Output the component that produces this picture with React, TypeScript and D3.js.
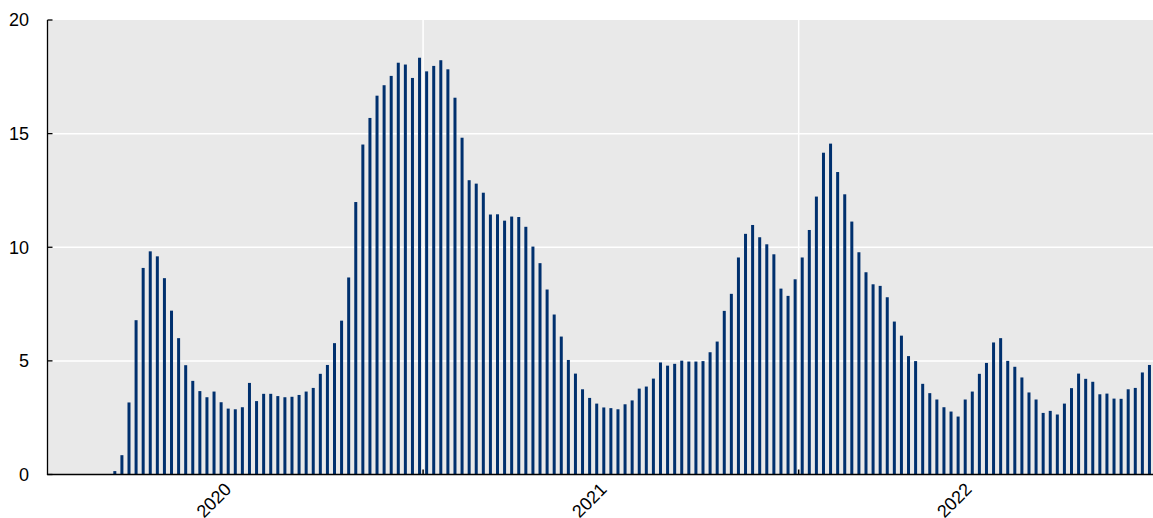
import React from "react";
import * as d3 from "d3";

// weekly values, starting at week 10 of 2020
const values = [
  0.15, 0.85, 3.17, 6.79, 9.09, 9.82, 9.6, 8.64, 7.21, 6.0,
  4.81, 4.12, 3.67, 3.4, 3.65, 3.18, 2.9, 2.87, 2.96, 4.03,
  3.23, 3.55, 3.55, 3.45, 3.4, 3.42, 3.5, 3.65, 3.81, 4.43,
  4.82, 5.78, 6.77, 8.67, 11.99, 14.52, 15.69, 16.67, 17.13, 17.54,
  18.12, 18.04, 17.45, 18.34, 17.74, 17.98, 18.23, 17.83, 16.58, 14.82,
  12.95, 12.8, 12.4, 11.44, 11.45, 11.17, 11.35, 11.33, 10.9, 10.03,
  9.3, 8.14, 7.04, 6.07, 5.04, 4.44, 3.75, 3.37, 3.12, 2.95,
  2.92, 2.87, 3.09, 3.26, 3.78, 3.87, 4.22, 4.93, 4.79, 4.87,
  5.01, 4.97, 4.97, 4.99, 5.38, 5.85, 7.2, 7.95, 9.55, 10.59,
  10.98, 10.44, 10.13, 9.69, 8.18, 7.86, 8.59, 9.55, 10.76, 12.23,
  14.16, 14.56, 13.31, 12.33, 11.13, 9.78, 8.9, 8.37, 8.3, 7.8,
  6.73, 6.11, 5.21, 4.99, 3.99, 3.58, 3.3, 2.96, 2.77, 2.55,
  3.3, 3.65, 4.43, 4.91, 5.81, 6.0, 5.0, 4.74, 4.27, 3.61,
  3.3, 2.71, 2.8, 2.64, 3.12, 3.8, 4.44, 4.21, 4.08, 3.53,
  3.56, 3.34, 3.33, 3.75, 3.81, 4.49, 4.82,
];
const firstWeek = 10;
const years = ["2020", "2021", "2022"];
const weeksInYear = [53, 53, 50];
const yTicks = [0, 5, 10, 15, 20];

const categories: string[] = [];
years.forEach((y, k) => {
  for (let w = 1; w <= weeksInYear[k]; w++) categories.push(`${y}-W${w}`);
});
// weeks run on across years, so map by position
const data = values.map((v, i) => ({ cat: categories[firstWeek - 1 + i], value: v }));

const width = 1153;
const height = 518;
const left = 47.5;
const right = 1153;
const top = 20;
const bottom = 474.5;
const font = "'Liberation Sans', Arial, sans-serif";

const App = () => {
  const x = d3.scaleBand<string>().domain(categories).range([left, right]).padding(0);
  const y = d3.scaleLinear().domain([0, 20]).range([bottom, top]);
  const barW = 3;

  let start = 0;
  const yearInfo = years.map((yr, k) => {
    const cats = categories.slice(start, start + weeksInYear[k]);
    start += weeksInYear[k];
    const x0 = x(cats[0])!;
    const x1 = x(cats[cats.length - 1])! + x.bandwidth();
    return { yr, x0, x1, mid: (x0 + x1) / 2 };
  });

  return (
    <svg width={width} height={height} style={{ position: "absolute", left: 0, top: 0 }}>
      <rect x={left} y={top} width={right - left} height={bottom - top} fill="#e9e9e9" />
      {yTicks.filter(t => t > 0 && t < 20).map(t => (
        <line key={t} x1={left} x2={right} y1={y(t)} y2={y(t)} stroke="#fff" strokeWidth={1.5} />
      ))}
      {yearInfo.slice(1).map(d => (
        <line key={d.yr} x1={d.x0} x2={d.x0} y1={top} y2={bottom} stroke="#fff" strokeWidth={1.5} />
      ))}
      {data.map(d => (
        <rect
          key={d.cat}
          x={x(d.cat)! + x.bandwidth() / 2 - barW / 2}
          y={y(d.value)}
          width={barW}
          height={bottom - y(d.value)}
          fill="#00306e"
        />
      ))}
      {/* axes */}
      <line x1={left} x2={left} y1={top} y2={bottom} stroke="#000" strokeWidth={1.3} />
      {yTicks.map(t => (
        <g key={t}>
          <line x1={left} x2={left + 5} y1={y(t)} y2={y(t)} stroke="#000" strokeWidth={1.3} />
          <text x={29} y={y(t)} dy="0.36em" textAnchor="end" fontFamily={font} fontSize={18} fill="#000">
            {t}
          </text>
        </g>
      ))}
      <line x1={left - 0.6} x2={right} y1={bottom} y2={bottom} stroke="#000" strokeWidth={1.5} />
      {yearInfo.slice(1).map(d => (
        <line key={d.yr} x1={d.x0} x2={d.x0} y1={bottom - 5} y2={bottom} stroke="#000" strokeWidth={1.5} />
      ))}
      {yearInfo.map(d => (
        <text
          key={d.yr}
          transform={`translate(${d.mid - 3},${bottom + 16}) rotate(-45)`}
          textAnchor="end"
          fontFamily={font}
          fontSize={18}
          fill="#000"
        >
          {d.yr}
        </text>
      ))}
    </svg>
  );
};

export default App;
